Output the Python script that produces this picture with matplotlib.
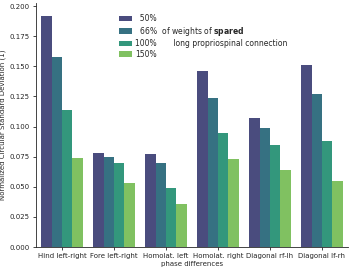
import pandas as pd
import seaborn as sns
import matplotlib
matplotlib.use("Agg")
import matplotlib.pyplot as plt

categories = ["Hind left-right", "Fore left-right", "Homolat. left",
              "Homolat. right", "Diagonal rf-lh", "Diagonal lf-rh"]
weights = ["50%", "66%", "100%", "150%"]
values = {
    "50%": [0.192, 0.078, 0.077, 0.146, 0.107, 0.151],
    "66%": [0.158, 0.075, 0.070, 0.124, 0.099, 0.127],
    "100%": [0.114, 0.070, 0.049, 0.095, 0.085, 0.088],
    "150%": [0.074, 0.053, 0.036, 0.073, 0.064, 0.055],
}
legend_labels = ["  50%",
                 "  66%  of weights of $\\bf{spared}$",
                 "100%       long propriospinal connection",
                 "150%"]

rows = []
for w in weights:
    for c, v in zip(categories, values[w]):
        rows.append({"phase": c, "weight": w, "ncsd": v})
df = pd.DataFrame(rows)

sns.set_style("ticks")
plt.rcParams["font.family"] = ["DejaVu Sans"]

fig = plt.figure(figsize=(3.52, 2.69), dpi=100)
ax = fig.add_axes([36 / 352, 22 / 269, 312 / 352, 244 / 269])
sns.barplot(data=df, x="phase", y="ncsd", hue="weight", palette="viridis",
            ax=ax, saturation=0.75, linewidth=0, edgecolor="none")
sns.despine(ax=ax)
ax.set_ylim(0, 0.2025)

ax.set_xlabel("phase differences", fontsize=5, labelpad=1)
ax.set_ylabel("Normalized Circular Standard Deviation (1)", fontsize=5, labelpad=2.5)
ax.tick_params(labelsize=5, length=2.5, width=0.6, pad=2)
for s in ax.spines.values():
    s.set_linewidth(0.6)
ax.set_yticks([0, 0.025, 0.05, 0.075, 0.1, 0.125, 0.15, 0.175, 0.2])

handles, _ = ax.get_legend_handles_labels()
ax.legend(handles, legend_labels, loc="upper left", bbox_to_anchor=(0.266, 0.955),
          frameon=False, fontsize=5.5, labelspacing=0.2, handlelength=1.7,
          handleheight=0.7, handletextpad=0.4, borderpad=0, borderaxespad=0)

fig.savefig("out.png", dpi=100)
